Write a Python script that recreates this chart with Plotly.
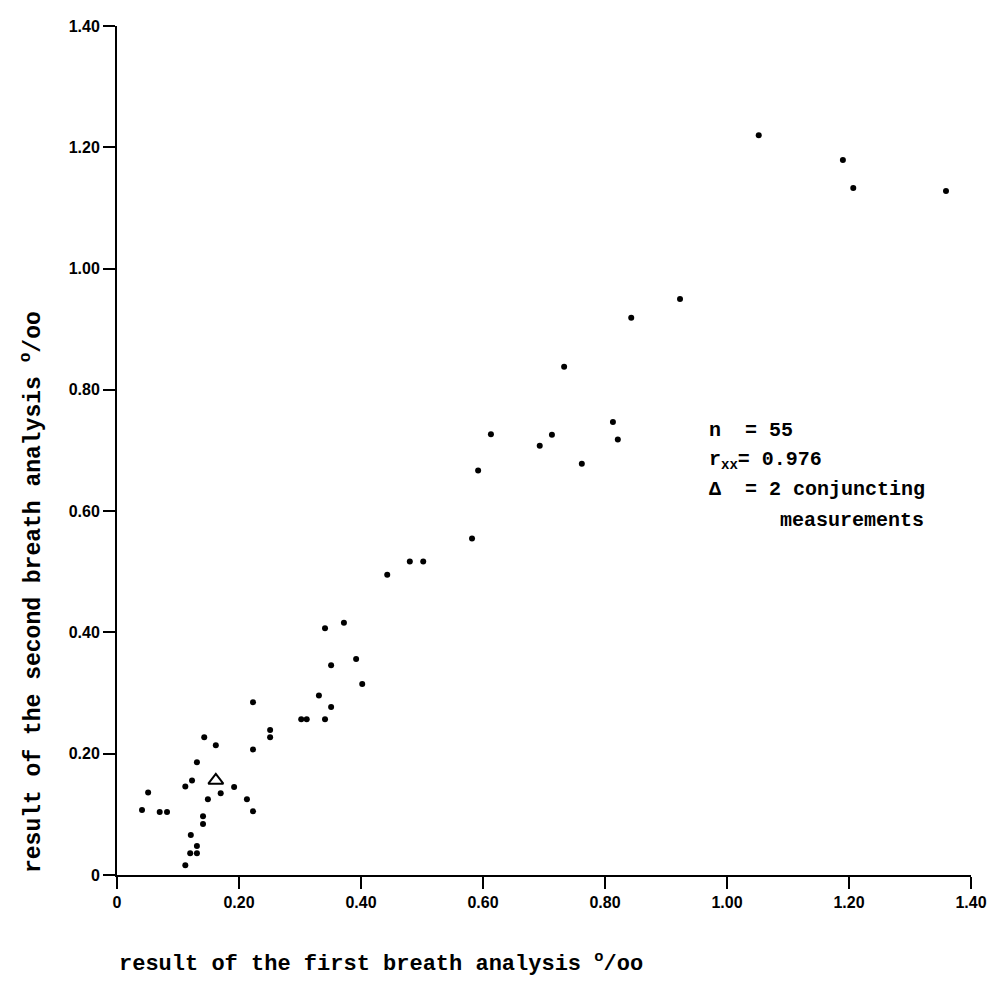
import plotly.graph_objects as go

# first breath analysis (o/oo), single measurements
x_first = [1.052, 1.190, 1.207, 1.359,
           0.923, 0.843, 0.733, 0.813, 0.821, 0.713, 0.693, 0.762, 0.613, 0.592, 0.582,
           0.480, 0.502, 0.443, 0.372, 0.341, 0.392, 0.351, 0.402, 0.331, 0.351, 0.302, 0.311, 0.341,
           0.223, 0.251, 0.251, 0.143, 0.162, 0.223, 0.131, 0.123, 0.112, 0.192, 0.170, 0.051,
           0.149, 0.213, 0.041, 0.070, 0.082, 0.223, 0.141, 0.141, 0.121, 0.131, 0.120, 0.131, 0.112]
# second breath analysis (o/oo)
y_second = [1.220, 1.179, 1.133, 1.128,
            0.950, 0.919, 0.838, 0.747, 0.718, 0.726, 0.708, 0.678, 0.727, 0.667, 0.555,
            0.517, 0.517, 0.495, 0.416, 0.407, 0.356, 0.346, 0.315, 0.296, 0.277, 0.257, 0.257, 0.257,
            0.285, 0.239, 0.227, 0.227, 0.214, 0.207, 0.186, 0.156, 0.146, 0.145, 0.135, 0.136,
            0.125, 0.125, 0.107, 0.104, 0.104, 0.105, 0.097, 0.084, 0.066, 0.048, 0.036, 0.036, 0.016]

# two conjuncting measurements (triangle)
x_double = [0.162]
y_double = [0.156]

tick_vals = [0, 0.2, 0.4, 0.6, 0.8, 1.0, 1.2, 1.4]
x_tick_text = ["<b>0</b>", "<b>0.20</b>", "<b>0.40</b>", "<b>0.60</b>", "<b>0.80</b>",
               "<b>1.00</b>", "<b>1.20</b>", "<b>1.40</b>"]
y_tick_text = ["<b>0</b>", "<b>0.20</b>", "<b>0.40</b>", "<b>0.60</b>", "<b>0.80</b>",
               "<b>1.00</b>", "<b>1.20</b>", "<b>1.40</b>"]

mono = "Liberation Mono"
tick_font = dict(family="Liberation Sans", size=16, color="black")

fig = go.Figure()
fig.add_trace(go.Scatter(x=x_first, y=y_second, mode="markers",
                         marker=dict(color="black", size=6), showlegend=False))
fig.add_trace(go.Scatter(x=x_double, y=y_double, mode="markers",
                         marker=dict(symbol="triangle-up-open", color="black", size=13,
                                     line=dict(width=2, color="black")),
                         showlegend=False))

axis_common = dict(range=[0, 1.4], tickvals=tick_vals, showgrid=False, zeroline=False,
                   showline=True, linecolor="black", linewidth=2, ticks="outside",
                   ticklen=12, tickwidth=2, tickcolor="black", tickfont=tick_font,
                   automargin=False)
fig.update_xaxes(ticktext=x_tick_text, **axis_common)
fig.update_yaxes(ticktext=y_tick_text, **axis_common)

ann_font = dict(family=mono, size=20, color="black")
title_font = dict(family=mono, size=22, color="black")
ann = [
    dict(x=0.0, y=-0.1025, xref="paper", yref="paper", xanchor="left", yanchor="middle",
         text="<b>result of the first breath analysis <sup>o</sup>/oo</b>",
         font=title_font, showarrow=False),
    dict(x=-0.0995, y=0.0, xref="paper", yref="paper", xanchor="center", yanchor="bottom",
         textangle=-90, text="<b>result of the second breath analysis <sup>o</sup>/oo</b>",
         font=dict(family=mono, size=23, color="black"), showarrow=False),
    dict(x=0.968, y=0.733, xref="x", yref="y", xanchor="left", yanchor="middle",
         text="<b>n  = 55</b>", font=ann_font, showarrow=False),
    dict(x=0.968, y=0.684, xref="x", yref="y", xanchor="left", yanchor="middle",
         text="<b>r<sub>xx</sub>= 0.976</b>", font=ann_font, showarrow=False),
    dict(x=0.968, y=0.636, xref="x", yref="y", xanchor="left", yanchor="middle",
         text="<b>\u0394  = 2 conjuncting</b>", font=ann_font, showarrow=False),
    dict(x=1.084, y=0.585, xref="x", yref="y", xanchor="left", yanchor="middle",
         text="<b>measurements</b>", font=ann_font, showarrow=False),
]
fig.update_layout(width=992, height=982, margin=dict(l=117, r=21, t=26, b=107),
                  plot_bgcolor="white", paper_bgcolor="white", annotations=ann)

fig.write_html("out.html")
